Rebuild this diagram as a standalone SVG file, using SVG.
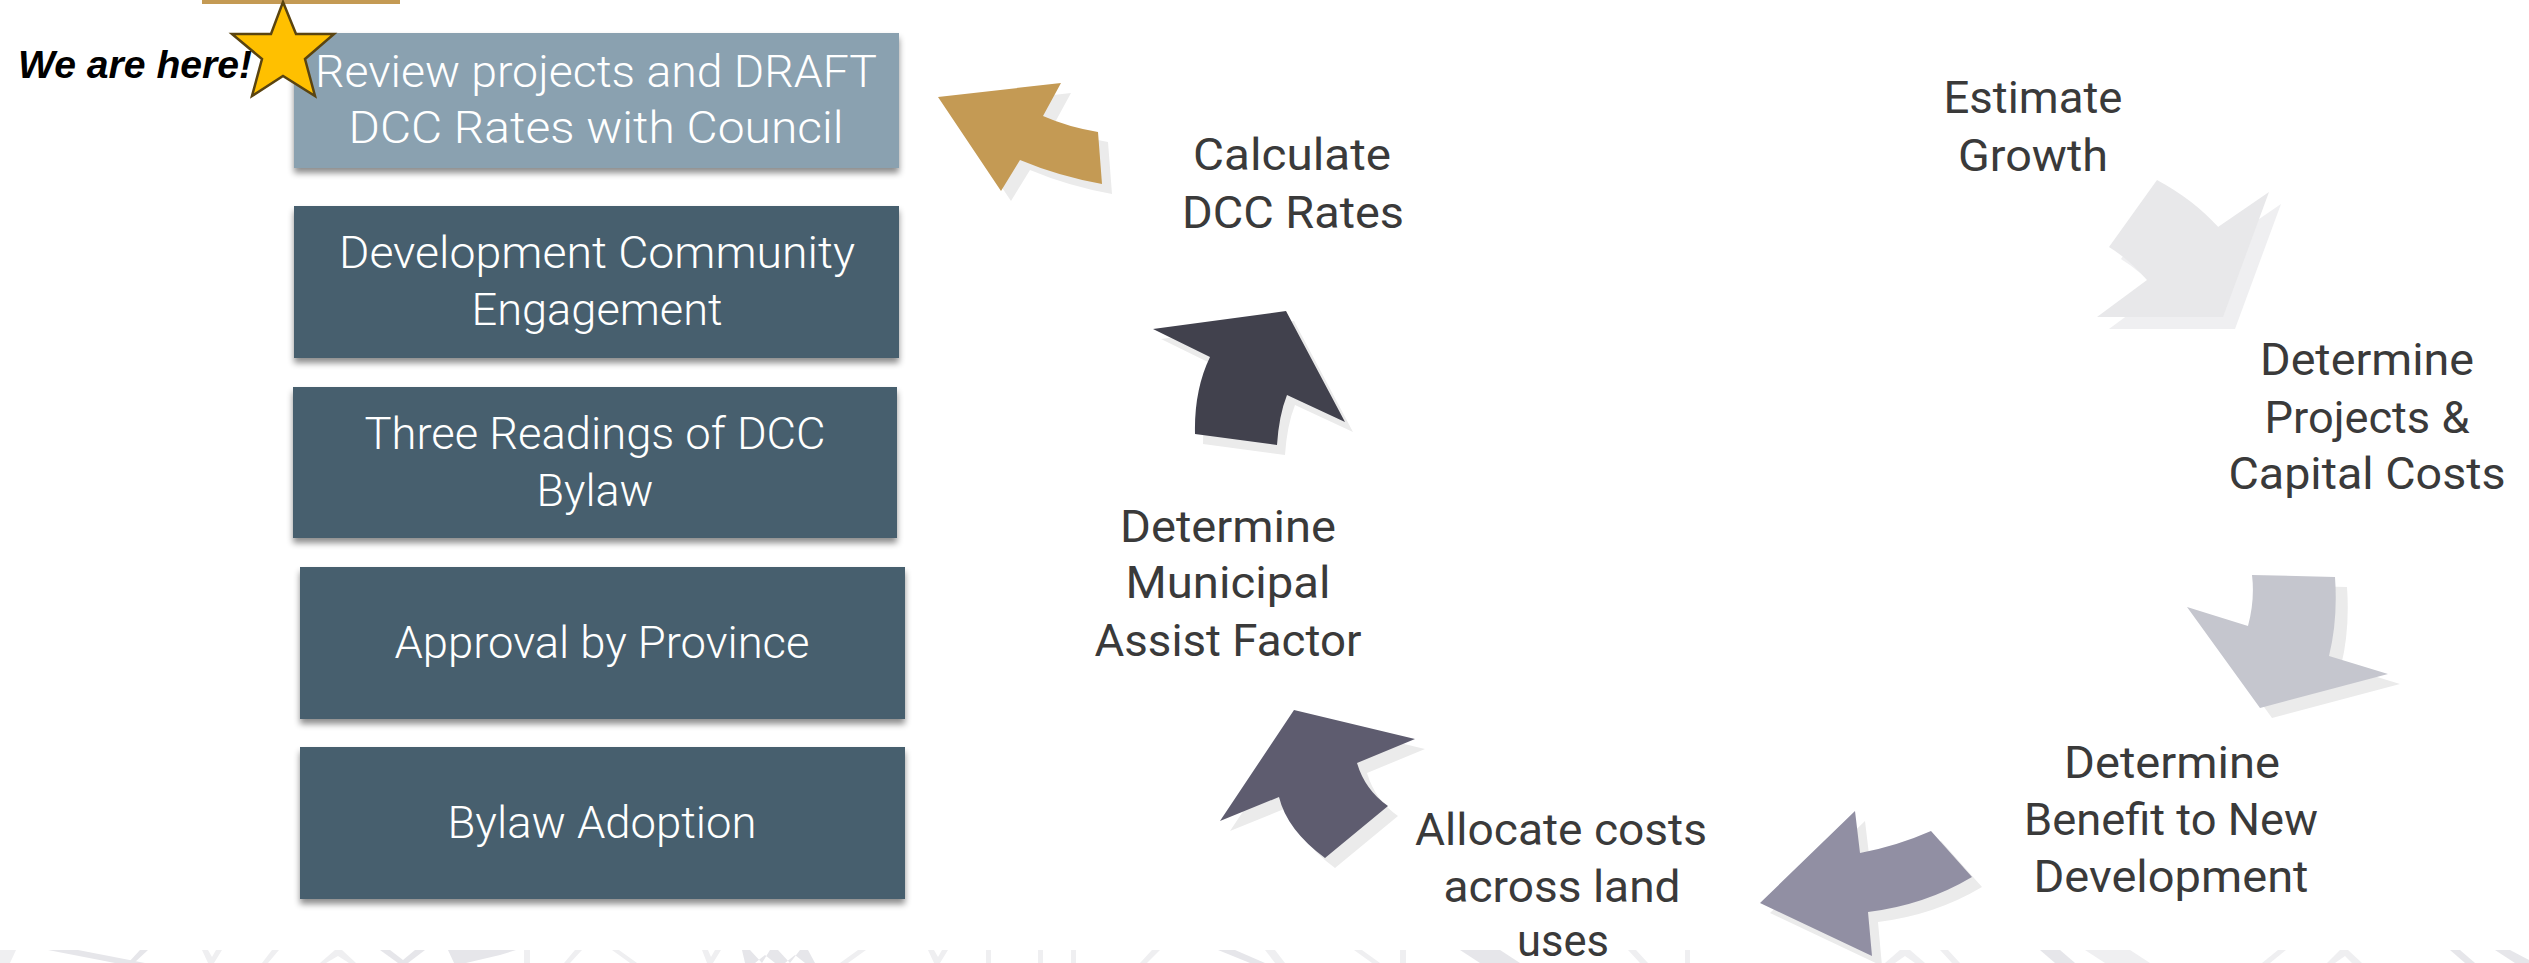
<svg xmlns="http://www.w3.org/2000/svg" width="2529" height="963" viewBox="0 0 2529 963">
<defs>
<filter id="boxShadow" x="-5%" y="-10%" width="110%" height="130%">
<feDropShadow dx="0" dy="5" stdDeviation="3" flood-color="#000" flood-opacity="0.45"/>
</filter>
<style>
.box1{fill:#8aa1b0;filter:url(#boxShadow)}
.box{fill:#475f6e;filter:url(#boxShadow)}
.bt{font-family:Roboto,"Liberation Sans",sans-serif;font-weight:300;font-size:45px;fill:#ffffff;text-anchor:middle}
.lbl{font-family:Roboto,"Liberation Sans",sans-serif;font-weight:400;font-size:44px;fill:#3a3a3a;text-anchor:middle}
.shd{fill:#ebebeb}
.pat{fill:#e6e6ea}
.pat2{fill:#efeff1}
</style>
</defs>
<rect width="2529" height="963" fill="#ffffff"/>

<g id="pattern">
<polygon class="pat2" points="0,950 16,950 10,963 0,963"/>
<polygon class="pat" points="48,950 78,950 145,963 115,963"/>
<polygon class="pat" points="140,950 148,950 134,963 128,963"/>
<polygon class="pat2" points="202,950 208,950 212,957 216,950 222,950 214,963 208,963"/>
<polygon class="pat2" points="272,950 279,950 268,963 262,963"/>
<polygon class="pat2" points="335,950 342,950 356,963 349,963 338,956 326,963 320,963"/>
<polygon class="pat" points="380,950 390,950 403,960 415,950 425,950 408,963 398,963"/>
<polygon class="pat" points="448,950 516,950 500,955 466,963 454,963"/>
<polygon class="pat2" points="524,950 530,950 530,963 524,963"/>
<polygon class="pat2" points="575,950 582,950 570,963 564,963"/>
<polygon class="pat2" points="612,950 619,950 637,963 630,963"/>
<polygon class="pat2" points="702,950 708,950 711,957 715,950 721,950 713,963 707,963"/>
<polygon class="pat" points="742,950 750,950 762,963 770,950 778,950 790,963 800,950 808,950 815,963 805,963 795,955 785,963 775,963 765,955 755,963 745,963"/>
<polygon class="pat2" points="858,950 866,950 848,963 840,963"/>
<polygon class="pat2" points="928,950 934,950 938,957 942,950 948,950 940,963 934,963"/>
<polygon class="pat2" points="986,950 991,950 991,963 986,963"/>
<polygon class="pat2" points="1038,950 1043,950 1043,963 1038,963"/>
<polygon class="pat2" points="1071,950 1076,950 1076,963 1071,963"/>
<polygon class="pat2" points="1152,950 1160,950 1147,963 1140,963"/>
<polygon class="pat" points="1218,950 1235,950 1265,963 1250,963"/>
<polygon class="pat2" points="1265,950 1275,950 1285,963 1275,963"/>
<polygon class="pat2" points="1354,950 1362,950 1380,963 1372,963"/>
<polygon class="pat2" points="1400,950 1406,950 1406,963 1400,963"/>
<polygon class="pat" points="1460,950 1500,950 1520,963 1480,963"/>
<polygon class="pat2" points="1628,950 1636,950 1648,963 1640,963"/>
<polygon class="pat2" points="1685,950 1690,950 1690,963 1685,963"/>
<polygon class="pat2" points="1900,950 1910,950 1925,963 1915,963 1905,956 1895,963 1885,963"/>
<polygon class="pat2" points="1940,950 1948,950 1960,963 1952,963"/>
<polygon class="pat" points="2040,950 2060,950 2075,963 2055,963"/>
<polygon class="pat2" points="2085,950 2130,950 2150,963 2105,963"/>
<polygon class="pat2" points="2278,950 2286,950 2270,963 2262,963"/>
<polygon class="pat2" points="2340,950 2348,950 2362,963 2352,963 2345,956 2335,963 2327,963"/>
<polygon class="pat" points="2450,950 2460,950 2475,963 2465,963"/>
<polygon class="pat" points="2495,950 2510,950 2529,960 2529,963 2515,963"/>
</g>

<rect id="goldbar" x="202" y="0" width="198" height="4" fill="#c49a54"/>

<g id="connectors">
<g id="arrow-growth">
<path class="pat2" d="M2169,192 Q2206,212 2230,239 L2281,204 L2235,329 L2109,329 L2159,292 Q2142,272 2121,259 Z"/>
<path fill="#e8e8ea" d="M2157,180 Q2194,200 2218,227 L2269,192 L2223,317 L2097,317 L2147,280 Q2130,260 2109,247 Z"/>
</g>
<g id="arrow-projects">
<path class="shd" d="M2264,585 L2347,587 Q2350,630 2341,666 L2400,684 L2272,718 L2199,617 L2260,636 Q2267,610 2264,585 Z"/>
<path fill="#c5c6ce" d="M2252,575 L2335,577 Q2338,620 2329,656 L2388,674 L2260,708 L2187,607 L2248,626 Q2255,600 2252,575 Z"/>
</g>
<g id="arrow-benefit">
<path class="shd" d="M1865,821 L1870,863 Q1907,856 1941,841 L1982,887 Q1935,915 1878,922 L1882,966 L1770,913 Z"/>
<path fill="#918fa3" d="M1855,811 L1860,853 Q1897,846 1931,831 L1972,877 Q1925,905 1868,912 L1872,956 L1760,903 Z"/>
</g>
<g id="arrow-allocate">
<path class="shd" d="M1304,720 L1425,749 L1367,773 Q1375,800 1398,816 L1335,868 Q1297,840 1289,807 L1230,831 Z"/>
<path fill="#5e5c6f" d="M1294,710 L1415,739 L1357,763 Q1365,790 1388,806 L1325,858 Q1287,830 1279,797 L1220,821 Z"/>
</g>
<g id="arrow-assist">
<path class="shd" d="M1161,339 L1294,321 L1353,432 L1295,405 Q1287,425 1285,455 L1203,444 Q1203,400 1218,367 Z"/>
<path fill="#41414d" d="M1153,329 L1286,311 L1345,422 L1287,395 Q1279,415 1277,445 L1195,434 Q1194,390 1210,357 Z"/>
</g>
<g id="arrow-calc">
<path class="shd" d="M948,107 L1071,93 L1053,126 Q1078,137 1108,142 L1112,194 Q1068,186 1030,170 L1011,201 Z"/>
<path fill="#c49a54" d="M938,97 L1061,83 L1043,116 Q1068,127 1098,132 L1102,184 Q1058,176 1020,160 L1001,191 Z"/>
</g>
</g>

<g id="node-review">
<rect class="box1" x="294" y="33" width="605" height="135"/>
<text class="bt" x="596" y="87" textLength="562" lengthAdjust="spacingAndGlyphs">Review projects and DRAFT</text>
<text class="bt" x="596" y="143" textLength="495" lengthAdjust="spacingAndGlyphs">DCC Rates with Council</text>
</g>
<g id="node-engagement">
<rect class="box" x="294" y="206" width="605" height="152"/>
<text class="bt" x="597" y="268" textLength="516" lengthAdjust="spacingAndGlyphs">Development Community</text>
<text class="bt" x="597" y="325" textLength="251" lengthAdjust="spacingAndGlyphs">Engagement</text>
</g>
<g id="node-readings">
<rect class="box" x="293" y="387" width="604" height="151"/>
<text class="bt" x="595" y="449" textLength="461" lengthAdjust="spacingAndGlyphs">Three Readings of DCC</text>
<text class="bt" x="595" y="506" textLength="117" lengthAdjust="spacingAndGlyphs">Bylaw</text>
</g>
<g id="node-approval">
<rect class="box" x="300" y="567" width="605" height="152"/>
<text class="bt" x="602" y="658" textLength="415" lengthAdjust="spacingAndGlyphs">Approval by Province</text>
</g>
<g id="node-adoption">
<rect class="box" x="300" y="747" width="605" height="152"/>
<text class="bt" x="602" y="838" textLength="309" lengthAdjust="spacingAndGlyphs">Bylaw Adoption</text>
</g>

<g id="we-are-here">
<text x="18" y="78" font-family="'Liberation Sans',Arial,sans-serif" font-weight="bold" font-style="italic" font-size="38" fill="#000000" textLength="234" lengthAdjust="spacingAndGlyphs">We are here!</text>
<polygon points="283,2 296,34 334,34 305,59 315,96 283,76 252,96 262,59 232,34 271,34" fill="#ffc000" stroke="#5a4410" stroke-width="2.5" stroke-linejoin="miter"/>
</g>

<g id="label-calc">
<text class="lbl" x="1292" y="170" textLength="198" lengthAdjust="spacingAndGlyphs">Calculate</text>
<text class="lbl" x="1293" y="228" textLength="222" lengthAdjust="spacingAndGlyphs">DCC Rates</text>
</g>
<g id="label-growth">
<text class="lbl" x="2033" y="113" textLength="179" lengthAdjust="spacingAndGlyphs">Estimate</text>
<text class="lbl" x="2033" y="171" textLength="150" lengthAdjust="spacingAndGlyphs">Growth</text>
</g>
<g id="label-projects">
<text class="lbl" x="2367" y="375" textLength="214" lengthAdjust="spacingAndGlyphs">Determine</text>
<text class="lbl" x="2367" y="433" textLength="205" lengthAdjust="spacingAndGlyphs">Projects &amp;</text>
<text class="lbl" x="2367" y="489" textLength="277" lengthAdjust="spacingAndGlyphs">Capital Costs</text>
</g>
<g id="label-benefit">
<text class="lbl" x="2172" y="778" textLength="216" lengthAdjust="spacingAndGlyphs">Determine</text>
<text class="lbl" x="2171" y="835" textLength="294" lengthAdjust="spacingAndGlyphs">Benefit to New</text>
<text class="lbl" x="2171" y="892" textLength="275" lengthAdjust="spacingAndGlyphs">Development</text>
</g>
<g id="label-allocate">
<text class="lbl" x="1561" y="845" textLength="292" lengthAdjust="spacingAndGlyphs">Allocate costs</text>
<text class="lbl" x="1562" y="902" textLength="237" lengthAdjust="spacingAndGlyphs">across land</text>
<text class="lbl" x="1563" y="956" textLength="92" lengthAdjust="spacingAndGlyphs">uses</text>
</g>
<g id="label-assist">
<text class="lbl" x="1228" y="542" textLength="216" lengthAdjust="spacingAndGlyphs">Determine</text>
<text class="lbl" x="1228" y="598" textLength="205" lengthAdjust="spacingAndGlyphs">Municipal</text>
<text class="lbl" x="1228" y="656" textLength="267" lengthAdjust="spacingAndGlyphs">Assist Factor</text>
</g>
</svg>
